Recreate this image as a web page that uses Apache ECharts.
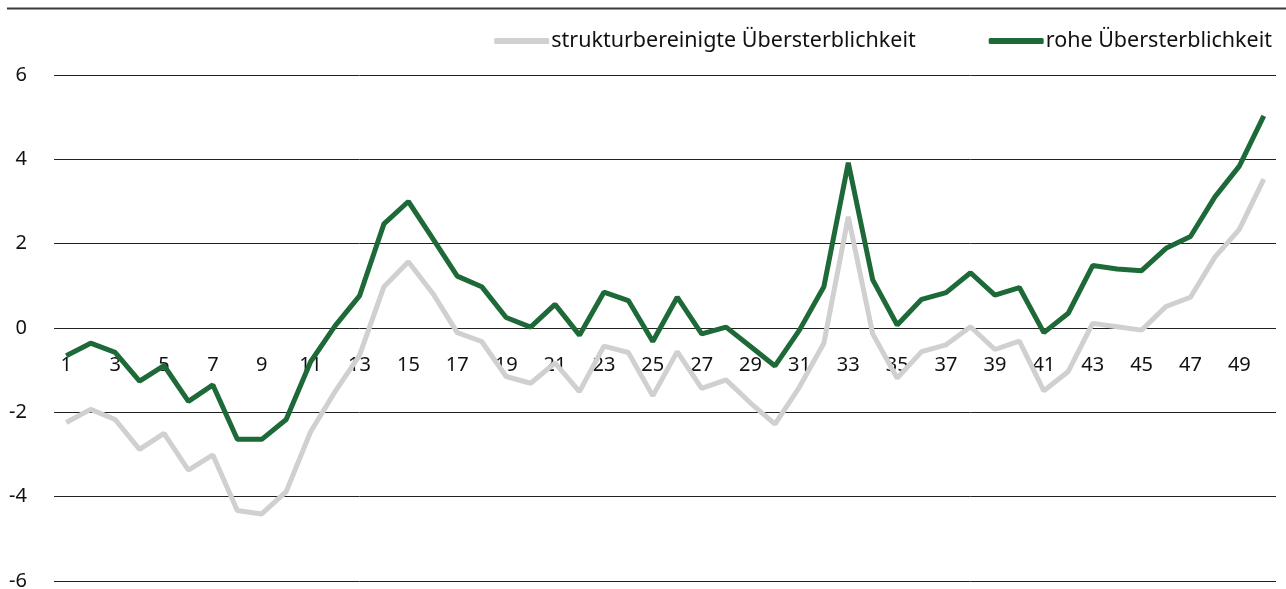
<!DOCTYPE html>
<html>
<head>
<meta charset="utf-8">
<script src="https://cdn.jsdelivr.net/npm/echarts@6/dist/echarts.min.js"></script>
<style>
html,body{margin:0;padding:0;background:#fff;}
#chart{width:1286px;height:589px;}
</style>
</head>
<body>
<div id="chart"></div>
<script>
const categories = [];
for (let i = 1; i <= 50; i++) categories.push(String(i));

const seriesNames = ['strukturbereinigte Übersterblichkeit', 'rohe Übersterblichkeit'];

const adjusted = [-2.24, -1.93, -2.17, -2.88, -2.50, -3.37, -3.01, -4.33, -4.41, -3.88,
  -2.46, -1.51, -0.65, 0.98, 1.57, 0.82, -0.11, -0.32, -1.15, -1.31,
  -0.83, -1.51, -0.43, -0.58, -1.61, -0.56, -1.43, -1.23, -1.78, -2.28,
  -1.40, -0.36, 2.64, -0.14, -1.19, -0.56, -0.40, 0.03, -0.51, -0.31,
  -1.49, -1.03, 0.11, 0.03, -0.05, 0.51, 0.73, 1.68, 2.34, 3.53];

const crude = [-0.66, -0.36, -0.58, -1.26, -0.89, -1.74, -1.35, -2.64, -2.64, -2.17,
  -0.80, 0.05, 0.76, 2.47, 3.00, 2.12, 1.23, 0.98, 0.25, 0.02,
  0.56, -0.17, 0.85, 0.65, -0.32, 0.73, -0.14, 0.02, -0.44, -0.90,
  -0.05, 0.98, 3.92, 1.14, 0.07, 0.68, 0.84, 1.31, 0.78, 0.96,
  -0.11, 0.35, 1.48, 1.40, 1.36, 1.89, 2.17, 3.11, 3.84, 5.03];

const yTicks = { min: -6, max: 6, interval: 2 };

const FONT = 'Noto Sans';
const chart = echarts.init(document.getElementById('chart'), null, { renderer: 'canvas' });
chart.setOption({
  animation: false,
  backgroundColor: '#ffffff',
  textStyle: { fontFamily: FONT },
  graphic: [{
    type: 'line',
    shape: { x1: 7, y1: 8.5, x2: 1286, y2: 8.5 },
    style: { stroke: '#3a3a3a', lineWidth: 2 }
  }],
  legend: {
    right: 9,
    top: 25,
    itemWidth: 55,
    itemHeight: 6,
    itemGap: 73,
    icon: 'roundRect',
    textStyle: { fontFamily: FONT, fontSize: 21.5, color: '#111', padding: [0, 0, 0, -3] },
    data: seriesNames
  },
  grid: { left: 54, right: 10, top: 75, bottom: 8, containLabel: false, outerBoundsMode: 'none' },
  xAxis: {
    type: 'category',
    data: categories,
    boundaryGap: true,
    position: 'bottom',
    offset: -253,
    axisLine: { show: false, onZero: false },
    axisTick: { show: false },
    axisLabel: { interval: 1, margin: 27, fontSize: 20, color: '#111', fontFamily: FONT },
    splitLine: { show: false }
  },
  yAxis: {
    type: 'value',
    min: yTicks.min,
    max: yTicks.max,
    interval: yTicks.interval,
    axisLine: { show: false },
    axisTick: { show: false },
    axisLabel: { margin: 27, fontSize: 20, color: '#111', fontFamily: FONT },
    splitLine: { show: true, lineStyle: { color: '#222', width: 1 } }
  },
  series: [
    {
      name: seriesNames[0],
      type: 'line',
      data: adjusted,
      symbol: 'none',
      lineStyle: { color: '#d0d0d0', width: 5 },
      itemStyle: { color: '#d0d0d0' }
    },
    {
      name: seriesNames[1],
      type: 'line',
      data: crude,
      symbol: 'none',
      lineStyle: { color: '#1d6a38', width: 5 },
      itemStyle: { color: '#1d6a38' }
    }
  ]
});
</script>
</body>
</html>
